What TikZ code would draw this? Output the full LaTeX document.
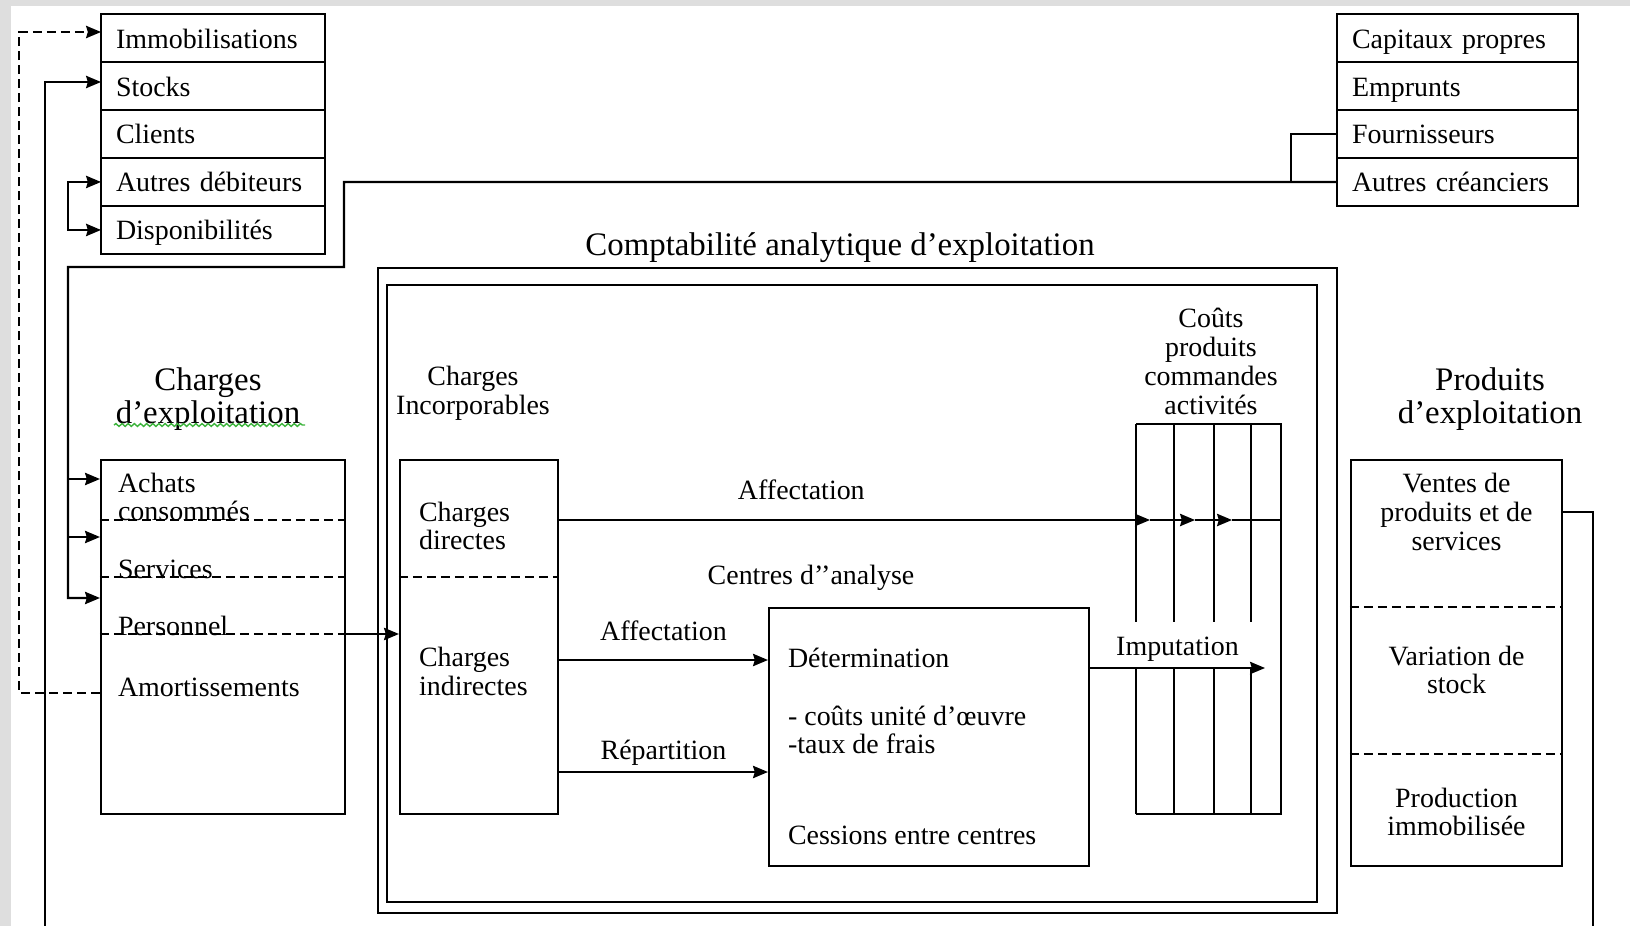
\documentclass[tikz,border=0pt]{standalone}
\usepackage{fontspec}
\setmainfont{Liberation Serif}
\usetikzlibrary{positioning, arrows.meta, calc, decorations.pathmorphing}
\definecolor{fond}{HTML}{DEDEDE}
\definecolor{souligne}{HTML}{3CB43C}

\begin{document}
\begin{tikzpicture}[x=0.02cm, y=-0.02cm, line width=1.2pt,
		every node/.style={font=\fontsize{15.9pt}{16.4pt}\selectfont},
		actif/.style={rectangle, draw, outer sep=0pt, minimum height=0.96cm, text height=11.4pt, text depth=0pt, text width=3.88cm, inner xsep=0.3cm, align=left},
		passif/.style={rectangle, draw, outer sep=0pt, minimum height=0.96cm, text height=11.4pt, text depth=0pt, text width=4.22cm, inner xsep=0.3cm, align=left},
		txt/.style={inner sep=0pt, align=left, anchor=west},
		titre/.style={align=center, font=\fontsize{18.7pt}{19pt}\selectfont},
		fleche/.style={-{Stealth[length=8.5pt, width=7pt, inset=1pt]}},
		fleches/.style={{Stealth[length=8.5pt, width=7pt, inset=1pt]}-{Stealth[length=8.5pt, width=7pt, inset=1pt]}},
		tiret/.style={dash pattern=on 0.18cm off 0.1cm}]

		\useasboundingbox (0,0) rectangle (1630,926);
		\fill[fond] (0,0) rectangle (1630,926);
		\fill[white] (11,6) rectangle (1630,926);
		% bilan - actif
		\node[actif] (immo) at (213,38) {Immobilisations};
		\node[actif, below=0cm of immo] (stocks) {Stocks};
		\node[actif, below=0cm of stocks] (clients) {Clients};
		\node[actif, below=0cm of clients] (autdeb) {Autres débiteurs};
		\node[actif, below=0cm of autdeb] (dispo) {Disponibilités};
		% bilan - passif
		\node[passif] (capit) at (1457.5,38) {Capitaux propres};
		\node[passif, below=0cm of capit] (empr) {Emprunts};
		\node[passif, below=0cm of empr] (fourn) {Fournisseurs};
		\node[passif, below=0cm of fourn] (autcre) {Autres créanciers};
		% charges d'exploitation
		\node[titre] (chtitre) at (208,399) {Charges\\d’exploitation};
		\draw[souligne, line width=0.8pt, decorate, decoration={snake, amplitude=0.8pt, segment length=3.5pt}] (114,425) -- (305,425);
		\node[rectangle, draw, minimum width=4.88cm, minimum height=7.08cm] (chexp) at (223,637) {};
		\node[txt] (achats) at (117,497) {Achats\\consommés};
		\node[txt] (serv) at (117,569) {Services};
		\node[txt] (pers) at (117,626) {Personnel};
		\node[txt] (amort) at (117,687) {Amortissements};
		\foreach \y in {520,577,634}
			\draw[tiret] (chexp.west |- 0,\y) -- (chexp.east |- 0,\y);
		% comptabilite analytique
		\node[titre] (caetitre) at (840,248) {Comptabilité analytique d’exploitation};
		\node[rectangle, draw, minimum width=19.18cm, minimum height=12.9cm] (cae) at (857.5,590.5) {};
		\node[rectangle, draw, minimum width=18.6cm, minimum height=12.34cm] (caein) at (852,593.5) {};
		% charges incorporables
		\node[align=center] (inctitre) at (473,393.5) {Charges\\Incorporables};
		\node[rectangle, draw, minimum width=3.16cm, minimum height=7.08cm] (incorp) at (479,637) {};
		\draw[tiret] (incorp.west |- 0,577) -- (incorp.east |- 0,577);
		\node[txt] (dir) at (418,526) {Charges\\directes};
		\node[txt] (indir) at (418,671.5) {Charges\\indirectes};
		% centres d'analyse
		\node (centitre) at (811,578) {Centres d’’analyse};
		\node[rectangle, draw, minimum width=6.4cm, minimum height=5.16cm] (centres) at (929,737) {};
		\node[txt] (determ) at (787,658) {Détermination};
		\node[txt] (unites) at (787,730) {- coûts unité d’œuvre\\-taux de frais};
		\node[txt] (cess) at (787,835) {Cessions entre centres};
		% couts
		\node[align=center] (coutitre) at (1211,361.5) {Coûts\\produits\\commandes\\activités};
		\draw (1136,424) -- (1281,424) -- (1281,814) -- (1136,814);
		\foreach \x in {1136,1174,1214,1251} {
			\draw (\x,424) -- (\x,622);
			\draw (\x,668) -- (\x,814);
		}
		% produits d'exploitation
		\node[titre] (prtitre) at (1490,399) {Produits\\d’exploitation};
		\node[rectangle, draw, minimum width=4.22cm, minimum height=8.12cm] (prod) at (1456.5,663) {};
		\foreach \y in {607,754}
			\draw[tiret] (prod.west |- 0,\y) -- (prod.east |- 0,\y);
		\node[align=center] (ventes) at (1456.5,512) {Ventes de\\produits et de\\services};
		\node[align=center] (var) at (1456.5,670) {Variation de\\stock};
		\node[align=center] (prodimm) at (1456.5,812) {Production\\immobilisée};
		% flux du bilan
		\coordinate (bas1) at (45,926);
		\coordinate (bas2) at (1593,926);
		\draw[fleche, tiret] (chexp.west |- 0,693) -- (19,693) -- (19,32) -- (immo.west |- 0,32);
		\draw[fleche] (bas1) -- (45,82) -- (stocks.west |- 0,82);
		\draw[fleches] (autdeb.west) -- ++(-33,0) |- (dispo.west);
		\draw (fourn.west) -- ++(-46,0) |- (autcre.west);
		\draw[fleche] (autcre.west) -- (344,182) -- (344,267) -- (68,267) |- (chexp.west |- 0,598);
		\coordinate (b1) at (68,479);
		\coordinate (b2) at (68,537);
		\draw[fleche] (b1) -- (chexp.west |- b1);
		\draw[fleche] (b2) -- (chexp.west |- b2);
		\draw[fleche] (chexp.east |- 0,634) -- (incorp.west |- 0,634);
		\draw (prod.east |- 0,512) -- (1593,512) -- (bas2);
		% affectation directe
		\coordinate (c1) at (1150,520);
		\coordinate (c2) at (1195,520);
		\coordinate (c3) at (1232,520);
		\coordinate (c4) at (1281,520);
		\draw[fleche] (incorp.east |- c1) -- node[above=7.5pt, pos=0.41] {Affectation} (c1);
		\draw[fleche] (c1) -- (c2);
		\draw[fleche] (c2) -- (c3);
		\draw (c3) -- (c4);
		% affectation et repartition indirectes
		\draw[fleche] (incorp.east |- 0,660) -- node[above=7pt] {Affectation} (centres.west |- 0,660);
		\draw[fleche] (incorp.east |- 0,772) -- node[above=0pt] {Répartition} (centres.west |- 0,772);
		% imputation
		\coordinate (imp) at (1265,668);
		\draw[fleche] (centres.east |- imp) -- node[above=0pt] {Imputation} (imp);
	\end{tikzpicture}
\end{document}
